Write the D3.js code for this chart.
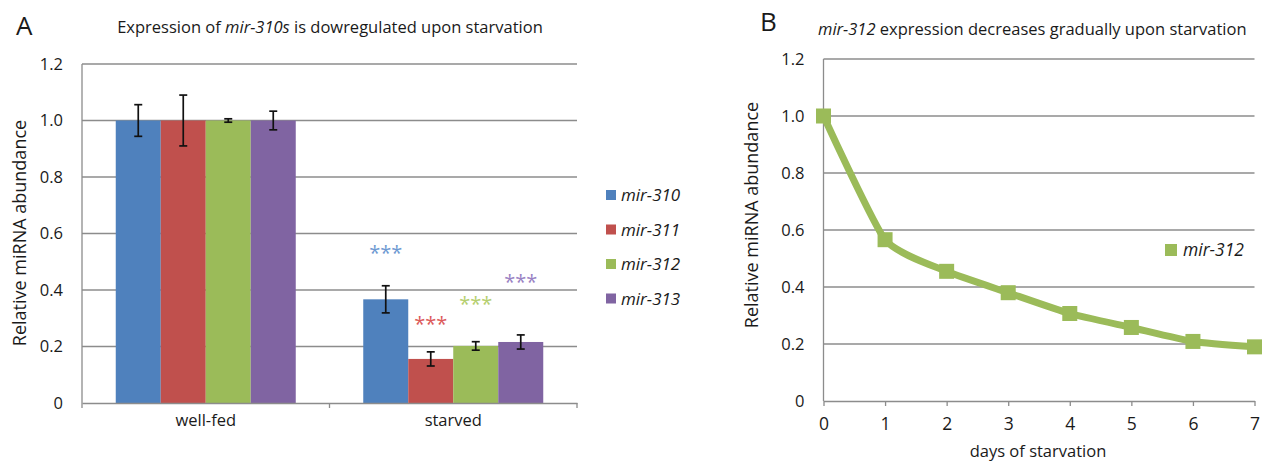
<!DOCTYPE html>
<meta charset="utf-8">
<style>
body { margin: 0; background: #fff; }
text { font-family: "Open Sans", sans-serif; fill: #1a1a1a; }
.grid line { stroke: #8c8c8c; stroke-width: 1.3px; }
.axis path, .axis line { stroke: #8c8c8c; stroke-width: 1.3px; }
.axis text { font-size: 16.5px; fill: #1a1a1a; }
</style>
<svg width="1265" height="463"></svg>
<script src="https://d3js.org/d3.v7.min.js"></script>
<script>

// panel A data
var groups = ["well-fed", "starved"];
var mirs = ["mir-310", "mir-311", "mir-312", "mir-313"];
var colours = ["#4f81bd", "#c0504d", "#9bbb59", "#8064a2"];
var starColours = ["#6f9ad2", "#dc5a5a", "#b5cf6e", "#9a82c4"];
var wellFed = [1.0, 1.0, 1.0, 1.0];
var wellFedErr = [0.056, 0.09, 0.006, 0.033];
var starved = [0.367, 0.156, 0.202, 0.216];
var starvedErr = [0.048, 0.025, 0.015, 0.025];
var starY = [0.54, 0.29, 0.36, 0.44];
var yTicksA = [0, 0.2, 0.4, 0.6, 0.8, 1.0, 1.2];

// panel B data
var days = [0, 1, 2, 3, 4, 5, 6, 7];
var mir312 = [1.0, 0.566, 0.455, 0.38, 0.307, 0.258, 0.209, 0.19];
var yTicksB = [0, 0.2, 0.4, 0.6, 0.8, 1.0, 1.2];

var svg = d3.select("svg");
var fmt = function(d){ return d === 0 ? "0" : d3.format(".1f")(d); };

//----- panel A -----
var A = svg.append("g");
var xA = d3.scaleBand().domain(groups).range([82, 577]);
var xInner = d3.scaleBand().domain(mirs).range([0, xA.bandwidth()]).paddingOuter(0.75);
var yA = d3.scaleLinear().domain([0, 1.2]).range([403, 64]);

A.append("g").attr("class", "grid")
  .selectAll("line").data(yTicksA.filter(function(d){ return d > 0; }))
  .enter().append("line")
  .attr("x1", 82).attr("x2", 577)
  .attr("y1", function(d){ return yA(d); }).attr("y2", function(d){ return yA(d); });

var rows = groups.map(function(g, gi){
  var v = gi === 0 ? wellFed : starved, e = gi === 0 ? wellFedErr : starvedErr;
  return mirs.map(function(m, i){ return {g: g, m: m, i: i, v: v[i], e: e[i]}; });
});
var flat = [].concat.apply([], rows);

A.selectAll("rect.bar").data(flat).enter().append("rect")
  .attr("x", function(d){ return xA(d.g) + xInner(d.m); })
  .attr("width", xInner.bandwidth())
  .attr("y", function(d){ return yA(d.v); })
  .attr("height", function(d){ return yA(0) - yA(d.v); })
  .attr("fill", function(d){ return colours[d.i]; });

// error bars
var eb = A.selectAll("g.err").data(flat).enter().append("g")
  .attr("transform", function(d){ return "translate(" + (xA(d.g) + xInner(d.m) + xInner.bandwidth() / 2) + ",0)"; })
  .attr("stroke", "#111").attr("stroke-width", 1.7);
eb.append("line").attr("y1", function(d){ return yA(d.v + d.e); }).attr("y2", function(d){ return yA(d.v - d.e); });
eb.append("line").attr("x1", -4).attr("x2", 4).attr("y1", function(d){ return yA(d.v + d.e); }).attr("y2", function(d){ return yA(d.v + d.e); });
eb.append("line").attr("x1", -4).attr("x2", 4).attr("y1", function(d){ return yA(d.v - d.e); }).attr("y2", function(d){ return yA(d.v - d.e); });

// significance stars
A.selectAll("text.star").data(rows[1]).enter().append("text")
  .attr("x", function(d){ return xA(d.g) + xInner(d.m) + xInner.bandwidth() / 2; })
  .attr("y", function(d){ return yA(starY[d.i]) + 10; })
  .attr("text-anchor", "middle")
  .style("font-size", "20px").style("letter-spacing", "0px")
  .style("fill", function(d){ return starColours[d.i]; })
  .text("***");

var axA = A.append("g").attr("class", "axis").attr("transform", "translate(0,403)")
  .call(d3.axisBottom(xA).tickSize(0).tickPadding(11));
axA.selectAll("line.sep").data([82, 329.5, 577]).enter().append("line").attr("class", "sep")
  .attr("x1", function(d){ return d; }).attr("x2", function(d){ return d; })
  .attr("y1", 0).attr("y2", 5);

A.append("g").attr("class", "axis").attr("transform", "translate(82,0)")
  .call(d3.axisLeft(yA).tickValues(yTicksA).tickFormat(fmt).tickSize(0).tickPadding(19))
  .select(".domain").attr("d", "M0," + yA(0) + "V" + yA(1.2));

A.append("text").attr("transform", "translate(25.5,233) rotate(-90)")
  .attr("text-anchor", "middle").style("font-size", "18px").text("Relative miRNA abundance");

A.append("text").attr("x", 16).attr("y", 35).style("font-size", "26px").text("A");
var tA = A.append("text").attr("x", 330).attr("y", 33).attr("text-anchor", "middle").style("font-size", "16.5px");
tA.append("tspan").text("Expression of ");
tA.append("tspan").style("font-style", "italic").text("mir-310s");
tA.append("tspan").text(" is dowregulated upon starvation");

var legA = A.selectAll("g.leg").data(mirs).enter().append("g")
  .attr("transform", function(d, i){ return "translate(606," + (195 + i * 34.5) + ")"; });
legA.append("rect").attr("x", 0).attr("y", -5).attr("width", 10).attr("height", 10)
  .attr("fill", function(d, i){ return colours[i]; });
legA.append("text").attr("x", 15).attr("y", 6).style("font-size", "17px").style("font-style", "italic")
  .text(function(d){ return d; });

//----- panel B -----
var B = svg.append("g");
var xB = d3.scaleLinear().domain([0, 7]).range([823.5, 1254.5]);
var yB = d3.scaleLinear().domain([0, 1.2]).range([401, 59]);

B.append("g").attr("class", "grid")
  .selectAll("line").data(yTicksB.filter(function(d){ return d > 0; }))
  .enter().append("line")
  .attr("x1", 823.5).attr("x2", 1254.5)
  .attr("y1", function(d){ return yB(d); }).attr("y2", function(d){ return yB(d); });

B.append("g").attr("class", "axis").attr("transform", "translate(0,401)")
  .call(d3.axisBottom(xB).tickValues(days).tickFormat(d3.format("d")).tickSize(5).tickSizeOuter(0).tickPadding(12))
  .selectAll("text").style("font-size", "17.5px");
B.append("g").attr("class", "axis").attr("transform", "translate(823.5,0)")
  .call(d3.axisLeft(yB).tickValues(yTicksB).tickFormat(fmt).tickSize(0).tickPadding(19))
  .select(".domain").attr("d", "M0," + yB(0) + "V" + yB(1.2));

var pts = days.map(function(d, i){ return [d, mir312[i]]; });
B.append("path").datum(pts)
  .attr("fill", "none").attr("stroke", "#9bbb59").attr("stroke-width", 7)
  .attr("stroke-linejoin", "round")
  .attr("d", d3.line().curve(d3.curveCardinal.tension(0.45))
    .x(function(d){ return xB(d[0]); }).y(function(d){ return yB(d[1]); }));
B.selectAll("rect.mk").data(pts).enter().append("rect")
  .attr("x", function(d){ return xB(d[0]) - 7.5; }).attr("y", function(d){ return yB(d[1]) - 7.5; })
  .attr("width", 15).attr("height", 15).attr("fill", "#9bbb59");

B.append("text").attr("transform", "translate(757.5,215) rotate(-90)")
  .attr("text-anchor", "middle").style("font-size", "18px").text("Relative miRNA abundance");
B.append("text").attr("x", 1038).attr("y", 457).attr("text-anchor", "middle").style("font-size", "16.5px").text("days of starvation");

B.append("text").attr("x", 760).attr("y", 31).style("font-size", "26px").text("B");
var tB = B.append("text").attr("x", 818).attr("y", 35).style("font-size", "16.5px");
tB.append("tspan").style("font-style", "italic").text("mir-312");
tB.append("tspan").text(" expression decreases gradually upon starvation");

var legB = B.append("g").attr("transform", "translate(1165,250)");
legB.append("rect").attr("x", 0).attr("y", -6).attr("width", 12).attr("height", 12).attr("fill", "#9bbb59");
legB.append("text").attr("x", 18).attr("y", 6).style("font-size", "17.5px").style("font-style", "italic").text("mir-312");
</script>
